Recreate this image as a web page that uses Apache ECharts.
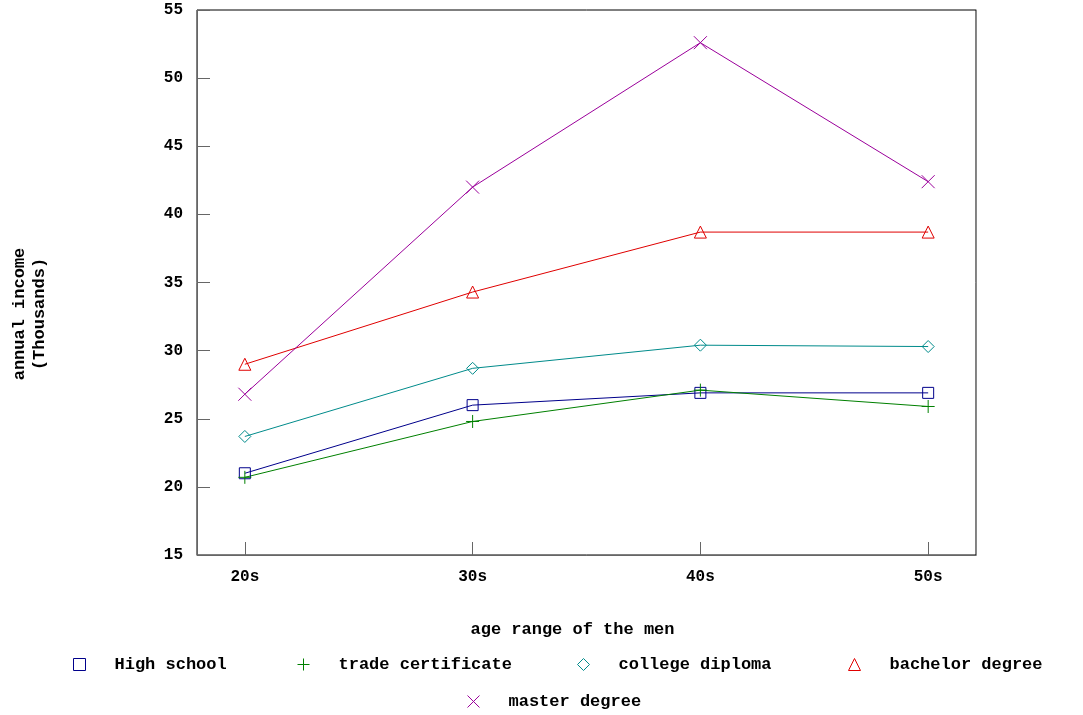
<!DOCTYPE html>
<html>
<head>
<meta charset="utf-8">
<script src="https://cdn.jsdelivr.net/npm/echarts@6/dist/echarts.min.js"></script>
<style>
  html, body { margin: 0; padding: 0; background: #fff; }
  #chart-container { width: 1083px; height: 715px; }
</style>
</head>
<body>
<div id="chart-container"></div>
<script>
var ageRanges = ['20s', '30s', '40s', '50s'];
var highSchool = [21.0, 26.0, 26.9, 26.9];
var tradeCertificate = [20.7, 24.8, 27.1, 25.9];
var collegeDiploma = [23.7, 28.7, 30.4, 30.3];
var bachelorDegree = [29.0, 34.3, 38.7, 38.7];
var masterDegree = [26.8, 42.0, 52.6, 42.4];
var yTicks = [15, 20, 25, 30, 35, 40, 45, 50, 55];

var font = 'Liberation Mono';
var plusPath = 'path://M0,7H14M7,0V14';
var crossPath = 'path://M0,0L14,14M14,0L0,14';

var dom = document.getElementById('chart-container');
var myChart = echarts.init(dom, null, { renderer: 'canvas' });

function pts(values) {
  return values.map(function (v, i) { return [i, v]; });
}

var seriesDefs = [
  { name: 'High school', data: highSchool, color: '#00008b', symbol: 'rect', size: 11, legendX: 68, legendY: 651 },
  { name: 'trade certificate', data: tradeCertificate, color: '#008000', symbol: plusPath, size: 13, legendX: 292, legendY: 651 },
  { name: 'college diploma', data: collegeDiploma, color: '#008b8b', symbol: 'diamond', size: 12, legendX: 572, legendY: 651 },
  { name: 'bachelor degree', data: bachelorDegree, color: '#e00000', symbol: 'triangle', size: 12, legendX: 843, legendY: 651 },
  { name: 'master degree', data: masterDegree, color: '#9b009b', symbol: crossPath, size: 13, legendX: 462, legendY: 688 }
];

var option = {
  backgroundColor: '#fff',
  animation: false,
  grid: {
    left: 197,
    right: 107,
    top: 10,
    bottom: 160,
    show: true,
    borderColor: '#000',
    borderWidth: 1
  },
  legend: seriesDefs.map(function (s) {
    return {
      left: s.legendX,
      top: s.legendY,
      itemWidth: 12,
      itemHeight: 12,
      data: [{
        name: s.name,
        icon: s.symbol,
        itemStyle: { color: 'rgba(0,0,0,0)', borderColor: s.color, borderWidth: 1 }
      }],
      textStyle: {
        fontFamily: font,
        fontWeight: 'bold',
        fontSize: 17,
        color: '#000',
        padding: [0, 0, 0, 24]
      }
    };
  }),
  xAxis: {
    type: 'value',
    min: -0.21,
    max: 3.21,
    name: 'age range of the men',
    nameLocation: 'middle',
    nameGap: 66,
    nameTextStyle: {
      fontFamily: font,
      fontWeight: 'bold',
      fontSize: 17,
      color: '#000',
      padding: [0, 28, 0, 0]
    },
    axisLine: { show: true, onZero: false, lineStyle: { color: '#666' } },
    axisTick: {
      show: true,
      inside: true,
      length: 13,
      customValues: [0, 1, 2, 3],
      lineStyle: { color: '#666' }
    },
    axisLabel: {
      customValues: [0, 1, 2, 3],
      margin: 14,
      fontFamily: font,
      fontWeight: 'bold',
      fontSize: 16,
      color: '#000',
      formatter: function (v) { return ageRanges[Math.round(v)]; }
    },
    splitLine: { show: false }
  },
  yAxis: [{
    type: 'value',
    min: 15,
    max: 55,
    interval: 5,
    axisLine: { show: true, onZero: false, lineStyle: { color: '#666' } },
    axisTick: { show: true, inside: true, length: 13, lineStyle: { color: '#666' } },
    axisLabel: {
      margin: 14,
      fontFamily: font,
      fontWeight: 'bold',
      fontSize: 16,
      color: '#000',
      formatter: function (v) { return yTicks.indexOf(v) >= 0 ? String(v) : ''; }
    },
    splitLine: { show: false }
  }, {
    type: 'value',
    position: 'right',
    min: 15,
    max: 55,
    axisLine: { show: true, onZero: false, lineStyle: { color: '#888' } },
    axisTick: { show: false },
    axisLabel: { show: false },
    splitLine: { show: false }
  }],
  graphic: [{
    type: 'text',
    x: 30,
    y: 314,
    rotation: Math.PI / 2,
    style: {
      text: 'annual income\n(Thousands)',
      fontFamily: font,
      fontWeight: 'bold',
      fontSize: 17,
      lineHeight: 20,
      align: 'center',
      verticalAlign: 'middle',
      fill: '#000'
    }
  }],
  series: seriesDefs.map(function (s) {
    return {
      name: s.name,
      type: 'line',
      data: pts(s.data),
      symbol: s.symbol,
      symbolSize: s.size,
      showAllSymbol: true,
      lineStyle: { color: s.color, width: 1 },
      itemStyle: { color: 'rgba(0,0,0,0)', borderColor: s.color, borderWidth: 1 }
    };
  })
};

myChart.setOption(option);
window.addEventListener('resize', myChart.resize);
</script>
</body>
</html>
